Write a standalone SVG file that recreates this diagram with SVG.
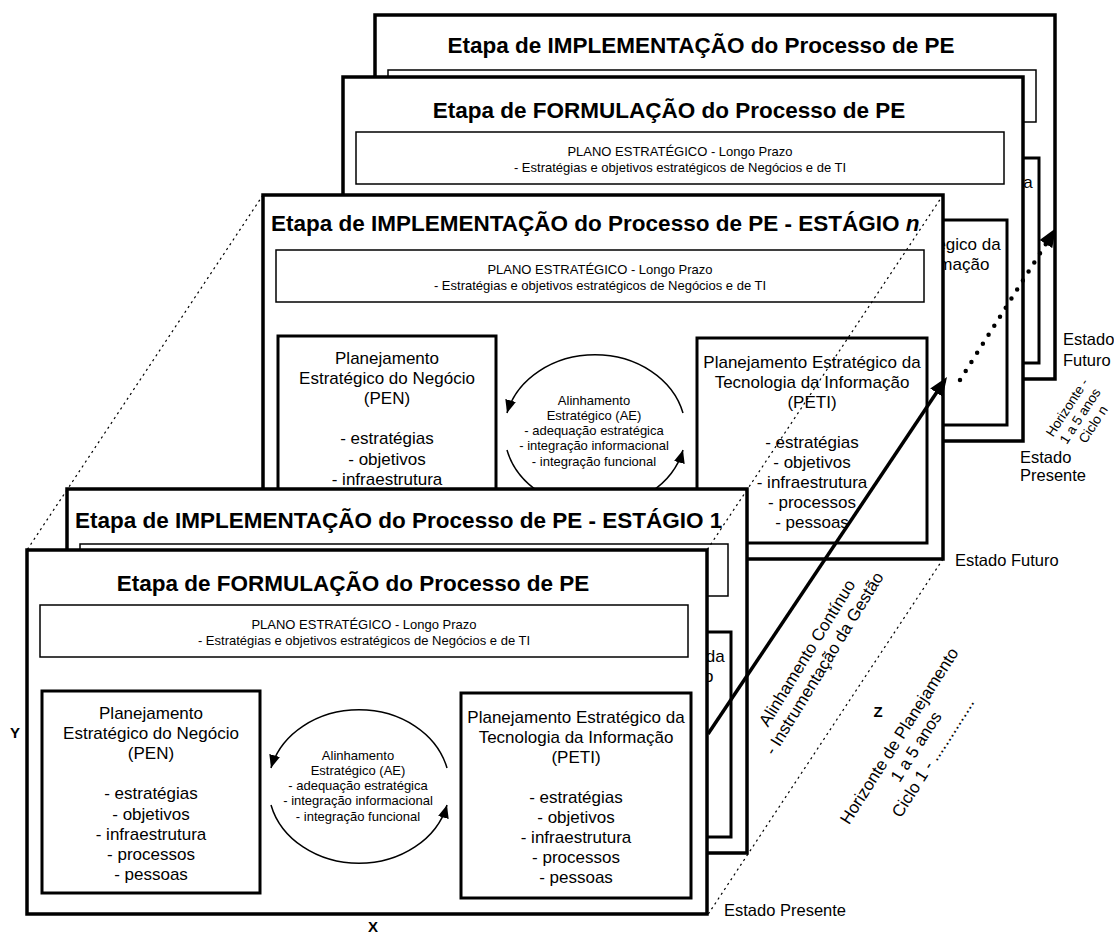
<svg xmlns="http://www.w3.org/2000/svg" width="1114" height="934" viewBox="0 0 1114 934">
<defs>
<style>
text{font-family:"Liberation Sans",Arial,Helvetica,sans-serif;fill:#000}
.frame{fill:#fff;stroke:#000;stroke-width:3.5}
.box{fill:#fff;stroke:#000;stroke-width:3}
.plano{fill:#fff;stroke:#000;stroke-width:1.5}
.title{font-size:22.5px;font-weight:bold}
.tc{text-anchor:middle}
.pl{font-size:13px;text-anchor:middle}
.bx{font-size:17px;text-anchor:middle}
.ae{font-size:13px;text-anchor:middle}
.arc{fill:none;stroke:#000;stroke-width:1.5;marker-end:url(#ahSmall)}
.thin{fill:none;stroke:#000;stroke-width:1.2;stroke-dasharray:2.2 3.6}
.lbl{font-size:16.5px}
.lbls{font-size:13.5px;text-anchor:middle}
.axis{font-size:15px;font-weight:bold;text-anchor:middle}
.rot{font-size:17px;text-anchor:middle}
</style>
<marker id="ahSmall" markerUnits="userSpaceOnUse" markerWidth="13" markerHeight="11" refX="13" refY="5.5" orient="auto"><path d="M0,0 L13,5.5 L0,11 z" fill="#000"/></marker>
<marker id="ahBig" markerUnits="userSpaceOnUse" markerWidth="19" markerHeight="15" refX="15" refY="7.5" orient="auto"><path d="M0,0 L19,7.5 L0,15 z" fill="#000"/></marker>
</defs>

<g id="frame-a-implementacao" transform="translate(375,15)">
<rect class="frame" width="680" height="364"/>
<text class="title tc" x="326" y="38">Etapa de IMPLEMENTAÇÃO do Processo de PE</text>
<rect class="plano" x="13" y="55" width="648" height="52"/>
<rect class="box" x="434" y="143" width="230" height="205"/>
<text class="bx" x="549" y="172.5">Planejamento Estratégico da</text>
</g>

<g id="frame-b-formulacao" transform="translate(343,77)">
<rect class="frame" width="680" height="364"/>
<text class="title tc" x="326" y="41">Etapa de FORMULAÇÃO do Processo de PE</text>
<rect class="plano" x="13" y="55" width="648" height="52"/>
<text class="pl" x="337" y="78.5">PLANO ESTRATÉGICO - Longo Prazo</text>
<text class="pl" x="337" y="95">- Estratégias e objetivos estratégicos de Negócios e de TI</text>
<rect class="box" x="434" y="143" width="230" height="205"/>
<text class="bx" x="549" y="172.5">Planejamento Estratégico da</text>
<text class="bx" x="549" y="192.5">Tecnologia da Informação</text>
</g>

<g id="frame-c-estagio-n" transform="translate(263,195)">
<rect class="frame" width="680" height="364"/>
<text class="title" x="8" y="36">Etapa de IMPLEMENTAÇÃO do Processo de PE - ESTÁGIO <tspan font-style="italic">n</tspan></text>
<rect class="plano" x="13" y="55" width="648" height="52"/>
<text class="pl" x="337" y="78.5">PLANO ESTRATÉGICO - Longo Prazo</text>
<text class="pl" x="337" y="95">- Estratégias e objetivos estratégicos de Negócios e de TI</text>
<rect class="box" x="15" y="141" width="218" height="202"/>
<text class="bx" x="124" y="168.5">Planejamento</text>
<text class="bx" x="124" y="188.5">Estratégico do Negócio</text>
<text class="bx" x="124" y="208.5">(PEN)</text>
<text class="bx" x="124" y="249">- estratégias</text>
<text class="bx" x="124" y="269.5">- objetivos</text>
<text class="bx" x="124" y="289.5">- infraestrutura</text>
<rect class="box" x="434" y="143" width="230" height="205"/>
<text class="bx" x="549" y="172.5">Planejamento Estratégico da</text>
<text class="bx" x="549" y="192.5">Tecnologia da Informação</text>
<text class="bx" x="549" y="212.5">(PETI)</text>
<text class="bx" x="549" y="252.5">- estratégias</text>
<text class="bx" x="549" y="272.5">- objetivos</text>
<text class="bx" x="549" y="292.5">- infraestrutura</text>
<text class="bx" x="549" y="312.5">- processos</text>
<text class="bx" x="549" y="332.5">- pessoas</text>
<path class="arc" d="M420,218 A90.6,76.5 0 0 0 244,218"/>
<path class="arc" d="M244,255 A90.6,76.5 0 0 0 420,255"/>
<text class="ae" x="331" y="209.5">Alinhamento</text>
<text class="ae" x="331" y="224.5">Estratégico (AE)</text>
<text class="ae" x="331" y="240">- adequação estratégica</text>
<text class="ae" x="331" y="255">- integração informacional</text>
<text class="ae" x="331" y="270.5">- integração funcional</text>
</g>

<g id="frame-d-estagio-1" transform="translate(67,489)">
<rect class="frame" width="680" height="364"/>
<text class="title" x="8" y="38.5">Etapa de IMPLEMENTAÇÃO do Processo de PE - ESTÁGIO 1</text>
<rect class="plano" x="13" y="55" width="648" height="52"/>
<rect class="box" x="434" y="143" width="230" height="205"/>
<text class="bx" x="549" y="172.5">Planejamento Estratégico da</text>
<text class="bx" x="549" y="192.5">Tecnologia da Informação</text>
</g>

<g id="frame-e-formulacao" transform="translate(27,550)">
<rect class="frame" width="680" height="364"/>
<text class="title tc" x="326" y="41">Etapa de FORMULAÇÃO do Processo de PE</text>
<rect class="plano" x="13" y="55" width="648" height="52"/>
<text class="pl" x="337" y="78.5">PLANO ESTRATÉGICO - Longo Prazo</text>
<text class="pl" x="337" y="95">- Estratégias e objetivos estratégicos de Negócios e de TI</text>
<rect class="box" x="15" y="141" width="218" height="202"/>
<text class="bx" x="124" y="168.5">Planejamento</text>
<text class="bx" x="124" y="188.5">Estratégico do Negócio</text>
<text class="bx" x="124" y="208.5">(PEN)</text>
<text class="bx" x="124" y="249">- estratégias</text>
<text class="bx" x="124" y="269.5">- objetivos</text>
<text class="bx" x="124" y="289.5">- infraestrutura</text>
<text class="bx" x="124" y="309.5">- processos</text>
<text class="bx" x="124" y="330">- pessoas</text>
<rect class="box" x="434" y="143" width="230" height="205"/>
<text class="bx" x="549" y="172.5">Planejamento Estratégico da</text>
<text class="bx" x="549" y="192.5">Tecnologia da Informação</text>
<text class="bx" x="549" y="212.5">(PETI)</text>
<text class="bx" x="549" y="252.5">- estratégias</text>
<text class="bx" x="549" y="272.5">- objetivos</text>
<text class="bx" x="549" y="292.5">- infraestrutura</text>
<text class="bx" x="549" y="312.5">- processos</text>
<text class="bx" x="549" y="332.5">- pessoas</text>
<path class="arc" d="M420,218 A90.6,76.5 0 0 0 244,218"/>
<path class="arc" d="M244,255 A90.6,76.5 0 0 0 420,255"/>
<text class="ae" x="331" y="209.5">Alinhamento</text>
<text class="ae" x="331" y="224.5">Estratégico (AE)</text>
<text class="ae" x="331" y="240">- adequação estratégica</text>
<text class="ae" x="331" y="255">- integração informacional</text>
<text class="ae" x="331" y="270.5">- integração funcional</text>
</g>

<g id="connectors">
<line class="thin" x1="263" y1="195" x2="27" y2="550"/>
<line class="thin" x1="943" y1="195" x2="707" y2="550"/>
<line class="thin" x1="943" y1="559" x2="707" y2="916"/>
<line x1="708" y1="734" x2="944.8" y2="380.3" stroke="#000" stroke-width="3.5" marker-end="url(#ahBig)"/>
<line x1="960" y1="380" x2="1053.9" y2="231.4" stroke="#000" stroke-width="4.5" stroke-linecap="round" stroke-dasharray="0 10.7" marker-end="url(#ahBig)"/>
</g>

<g id="labels">
<text class="axis" x="15" y="738">Y</text>
<text class="axis" x="373" y="932">X</text>
<text class="axis" x="878" y="717">Z</text>
<text class="lbl" x="955" y="566">Estado Futuro</text>
<text class="lbl" x="724" y="916">Estado Presente</text>
<text class="lbl" x="1063" y="345">Estado</text>
<text class="lbl" x="1063" y="366">Futuro</text>
<text class="lbl" x="1020" y="463">Estado</text>
<text class="lbl" x="1020" y="481">Presente</text>
<text class="rot" transform="translate(812,656) rotate(-58.5)"><tspan x="0" y="0">Alinhamento Contínuo</tspan><tspan x="0" y="20">- Instrumentação da Gestão</tspan></text>
<text class="rot" transform="translate(904,739) rotate(-57.5)"><tspan x="0" y="0">Horizonte de Planejamento</tspan><tspan x="0" y="20">1 a 5 anos</tspan><tspan x="0" y="40">Ciclo 1 - ...............</tspan></text>
<text class="lbls" transform="translate(1071,410) rotate(-57)"><tspan x="0" y="0">Horizonte -</tspan><tspan x="0" y="15.5">1 a 5 anos</tspan><tspan x="0" y="31">Ciclo n</tspan></text>
</g>
</svg>
